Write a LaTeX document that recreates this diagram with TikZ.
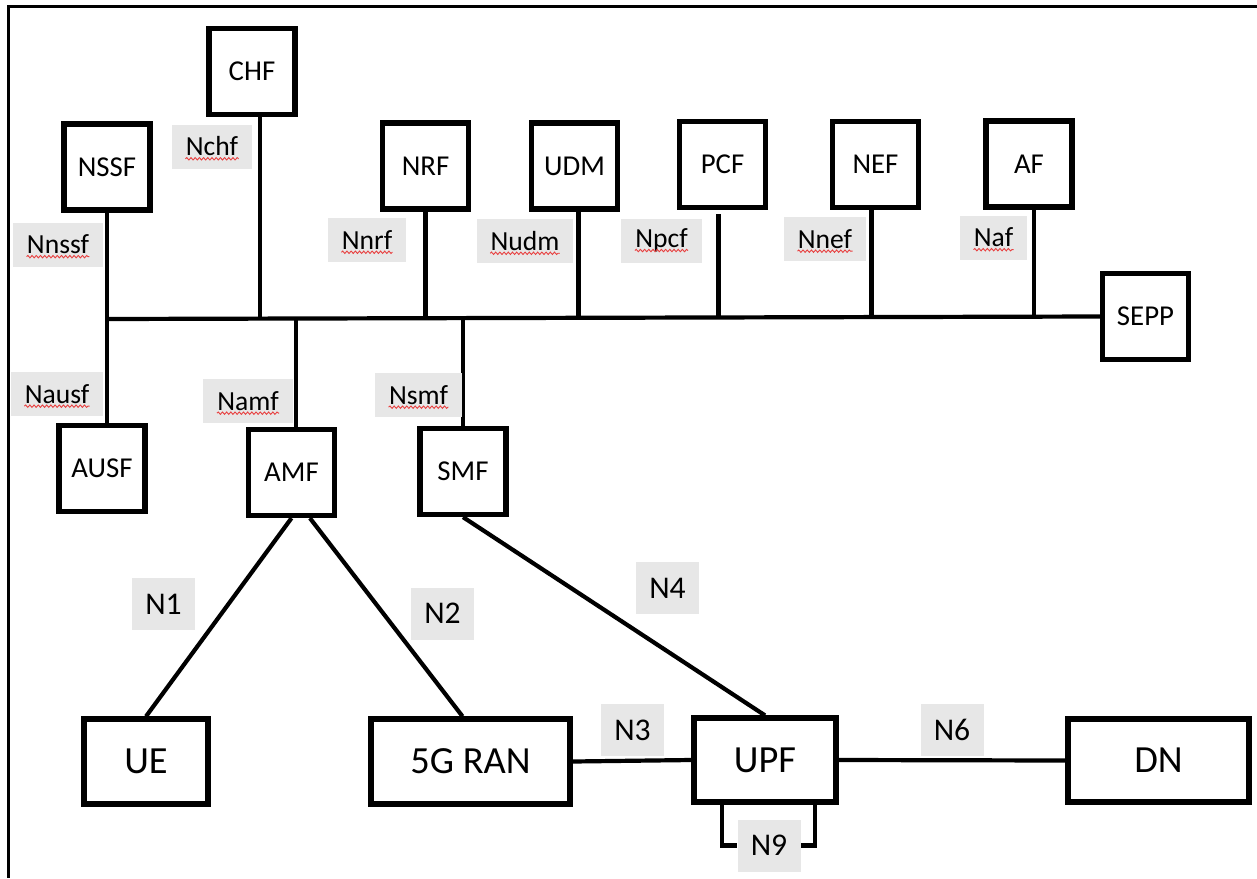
\documentclass[tikz,border=0pt]{standalone}
\usepackage{fontspec}
\setmainfont{Carlito}
\usetikzlibrary{calc,decorations.pathmorphing}
\definecolor{lblgray}{RGB}{231,231,231}
\definecolor{spellred}{RGB}{232,64,64}

\begin{document}
\begin{tikzpicture}[x=0.5pt,y=-0.5pt,
    nf/.style={draw,line width=2.6pt,minimum width=43pt,minimum height=43pt,
      inner sep=0pt,font=\fontsize{14.4}{16}\selectfont},
    big/.style={draw,line width=2.6pt,minimum height=42.5pt,inner sep=0pt,
      font=\fontsize{19.2}{22}\selectfont},
    lbl/.style={fill=lblgray,inner xsep=7pt,inner ysep=0pt,minimum height=22pt,
      font=\fontsize{13.8}{16}\selectfont},
    rp/.style={fill=lblgray,minimum width=31.5pt,minimum height=26pt,inner sep=0pt,
      font=\fontsize{15.8}{18}\selectfont},
    ln/.style={line width=2.1pt},
    squig/.style={draw=spellred,line width=0.45pt,decorate,
      decoration={snake,amplitude=0.6pt,segment length=2.1pt}}]
  \useasboundingbox (0,0) rectangle (1257,878);
  \draw[line width=1.8pt] (1257,6.5) -- (8.5,6.5) -- (8.5,878);

  % network functions
  \node[nf] (chf) at (252,71.5) {CHF};
  \node[nf] (nssf) at (107,167) {NSSF};
  \node[nf] (nrf) at (425.5,166) {NRF};
  \node[nf] (udm) at (574.5,166) {UDM};
  \node[nf] (pcf) at (722.5,164.5) {PCF};
  \node[nf] (nef) at (875.5,164.5) {NEF};
  \node[nf] (af) at (1029,164) {AF};
  \node[nf] (sepp) at (1145.5,316.5) {SEPP};
  \node[nf] (ausf) at (102,468.5) {AUSF};
  \node[nf] (amf) at (291.5,472.5) {AMF};
  \node[nf] (smf) at (463,471.5) {SMF};

  % user plane
  \node[big,minimum width=62pt] (ue) at (146,761.5) {UE};
  \node[big,minimum width=99.5pt] (ran) at (470.5,761.5) {5G RAN};
  \node[big,minimum width=71pt,minimum height=42pt] (upf) at (765,760) {UPF};
  \node[big,minimum width=90.5pt,minimum height=41.5pt] (dn) at (1158.5,760.5) {DN};

  % service based bus
  \coordinate (bus) at (107,319);
  \draw[ln] (bus) -- (sepp.west);
  \draw[ln] (nssf.south) -- (nssf.south |- ausf.north);
  \draw[ln] (chf.-80) -- (chf.-80 |- bus);
  \draw[ln] (nrf.south) -- (nrf.south |- bus);
  \draw[ln] (udm.-85) -- (udm.-85 |- bus);
  \draw[ln,shorten <=2pt] (pcf.-95) -- (pcf.-95 |- bus);
  \draw[ln] (nef.-95) -- (nef.-95 |- bus);
  \draw[ln] (af.-84) -- (af.-84 |- bus);
  \draw[ln] (amf.84) -- (amf.84 |- bus);
  \draw[ln] (smf.north) -- (smf.north |- bus);

  % reference points
  \draw[ln] (amf.south) -- (ue.north);
  \draw[ln] (amf.-68) -- (ran.100);
  \draw[ln] (smf.south) -- (upf.north);
  \draw[ln] (ran.east) -- (upf.west);
  \draw[ln] (upf.east) -- (dn.west);

  % service labels
  \node[lbl] (nchf) at (212,146.5) {Nchf};
  \node[lbl] (nnssf) at (58,244.5) {Nnssf};
  \node[lbl] (nnrf) at (367,240) {Nnrf};
  \node[lbl] (nudm) at (525,241) {Nudm};
  \node[lbl] (npcf) at (661.5,240.5) {Npcf};
  \node[lbl] (nnef) at (825,239) {Nnef};
  \node[lbl] (naf) at (993.5,237.5) {Naf};
  \node[lbl] (nausf) at (57,394) {Nausf};
  \node[lbl] (namf) at (248,401) {Namf};
  \node[lbl] (nsmf) at (418.5,395) {Nsmf};
  \foreach \l in {nchf,nnssf,nnrf,nudm,npcf,nnef,naf,nausf,namf,nsmf}
    \draw[squig] ([xshift=7pt,yshift=-1.4pt]\l.base west)
      -- ([xshift=-7pt,yshift=-1.4pt]\l.base east);

  \node[rp] (n1) at (163.5,604) {N1};
  \node[rp] (n2) at (442.5,613.5) {N2};
  \node[rp] (n4) at (667.5,588) {N4};
  \node[rp] (n3) at (632.5,730) {N3};
  \node[rp] (n6) at (952,730) {N6};
  \node[rp] (n9) at (769,845.5) {N9};

  % N9 loop
  \draw[ln] ($(upf.south)+(-43,0)$) |- (n9.west);
  \draw[ln] ($(upf.south)+(50,0)$) |- (n9.east);
\end{tikzpicture}
\end{document}
